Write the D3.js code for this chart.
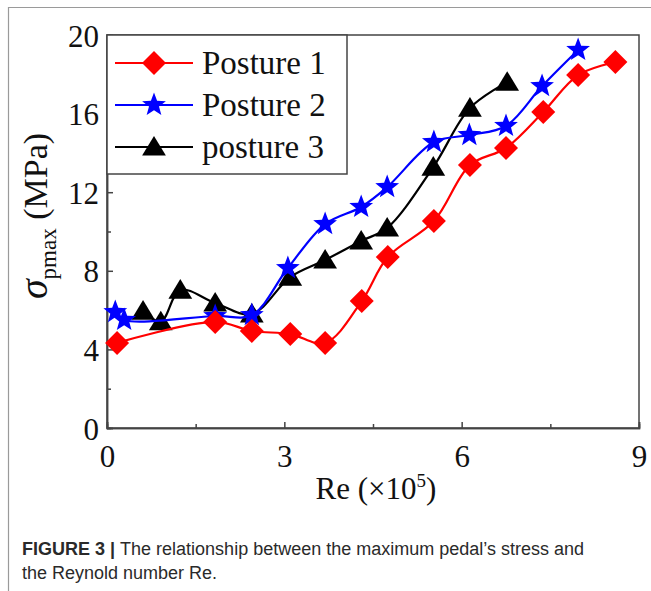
<!DOCTYPE html>
<html>
<head>
<meta charset="utf-8">
<script src="https://cdn.jsdelivr.net/npm/d3@7"></script>
<style>
  html, body { margin: 0; padding: 0; background: #fff; }
  svg { display: block; }
</style>
</head>
<body>
<svg id="chart" width="651" height="591"></svg>
<script>
// Re (x10^5) and peak pedal stress (MPa) for the three postures
const re1 = [0.17, 1.83, 2.45, 3.10, 3.69, 4.31, 4.75, 5.53, 6.14, 6.75, 7.38, 7.97, 8.60];
const sigma1 = [4.33, 5.40, 4.94, 4.78, 4.33, 6.46, 8.70, 10.53, 13.38, 14.25, 16.08, 17.96, 18.63];

const re2 = [0.14, 0.29, 1.83, 2.45, 3.06, 3.69, 4.30, 4.74, 5.53, 6.13, 6.75, 7.36, 7.97];
const sigma2 = [5.90, 5.50, 5.70, 5.75, 8.14, 10.38, 11.25, 12.26, 14.55, 14.91, 15.37, 17.40, 19.24];

const re3 = [0.61, 0.91, 1.24, 1.83, 2.45, 3.10, 3.69, 4.30, 4.74, 5.52, 6.14, 6.77];
const sigma3 = [5.95, 5.41, 7.02, 6.36, 5.80, 7.68, 8.55, 9.52, 10.18, 13.28, 16.28, 17.60];

const seriesNames = ["Posture 1", "Posture 2", "posture 3"];
const xTicks = [0, 3, 6, 9];
const xMinorTicks = [1.5, 4.5, 7.5];
const yTicks = [0, 4, 8, 12, 16, 20];
const yMinorTicks = [2, 6, 10, 14, 18];

const svg = d3.select("#chart");
const serif = "'Liberation Serif', 'Times New Roman', serif";
const sans = "'Liberation Sans', Arial, sans-serif";

const plot = { left: 107, right: 639, top: 35, bottom: 428 };
const x = d3.scaleLinear().domain([0, 9]).range([plot.left, plot.right]);
const y = d3.scaleLinear().domain([0, 20]).range([plot.bottom, plot.top]);

// outer figure frame (top and left edges)
svg.append("line").attr("x1", 8).attr("x2", 651).attr("y1", 7.5).attr("y2", 7.5)
  .attr("stroke", "#9a9a9a").attr("stroke-width", 1.2);
svg.append("line").attr("x1", 8.5).attr("x2", 8.5).attr("y1", 7).attr("y2", 591)
  .attr("stroke", "#9a9a9a").attr("stroke-width", 1.2);

// plot frame
svg.append("rect")
  .attr("x", plot.left).attr("y", plot.top)
  .attr("width", plot.right - plot.left).attr("height", plot.bottom - plot.top)
  .attr("fill", "none").attr("stroke", "#444").attr("stroke-width", 1.5);

// axes with inward ticks
const axisStyle = g => {
  g.select(".domain").attr("stroke", "#444").attr("stroke-width", 1.5);
  g.selectAll(".tick line").attr("stroke", "#444").attr("stroke-width", 1.5);
  g.selectAll(".tick text").attr("font-family", serif).attr("font-size", 31).attr("fill", "#111");
};

svg.append("g").attr("transform", `translate(0,${plot.bottom})`)
  .call(d3.axisBottom(x).tickValues(xTicks).tickSize(-6).tickPadding(16).tickFormat(d3.format("d")))
  .call(axisStyle)
  .call(g => g.selectAll(".tick text").attr("dy", "0.75em"));
svg.append("g").attr("transform", `translate(0,${plot.bottom})`)
  .call(d3.axisBottom(x).tickValues(xMinorTicks).tickSize(-4).tickFormat(""))
  .call(axisStyle);

svg.append("g").attr("transform", `translate(${plot.left},0)`)
  .call(d3.axisLeft(y).tickValues(yTicks).tickSize(-6).tickPadding(8).tickFormat(d3.format("d")))
  .call(axisStyle)
  .call(g => g.selectAll(".tick text").attr("dy", "0.36em"));
svg.append("g").attr("transform", `translate(${plot.left},0)`)
  .call(d3.axisLeft(y).tickValues(yMinorTicks).tickSize(-4).tickFormat(""))
  .call(axisStyle);

// axis titles
const xt = svg.append("text").attr("x", 376).attr("y", 499)
  .attr("text-anchor", "middle").attr("font-family", serif).attr("font-size", 31).attr("fill", "#111");
xt.append("tspan").text("Re (\u00d710");
xt.append("tspan").attr("font-size", 19).attr("dy", -12).text("5");
xt.append("tspan").attr("dy", 12).text(")");

const yt = svg.append("text")
  .attr("transform", "translate(47,216) rotate(-90)")
  .attr("text-anchor", "middle").attr("font-family", serif).attr("font-size", 34).attr("fill", "#111");
yt.append("tspan").attr("font-style", "italic").attr("font-size", 40).text("\u03c3");
yt.append("tspan").attr("font-size", 23).attr("dy", 9).text("pmax");
yt.append("tspan").attr("dy", -9).text(" (MPa)");

// marker shapes
const markerPath = {
  diamond: r => `M0,${-r}L${r},0L0,${r}L${-r},0Z`,
  star: r => {
    const pts = [];
    for (let i = 0; i < 10; i++) {
      const rad = i % 2 === 0 ? r : r * 0.42;
      const a = -Math.PI / 2 + i * Math.PI / 5;
      pts.push([rad * Math.cos(a), rad * Math.sin(a)]);
    }
    return "M" + pts.map(p => p.join(",")).join("L") + "Z";
  },
  triangle: r => `M0,${-r}L${r * 1.08},${r * 0.78}L${-r * 1.08},${r * 0.78}Z`
};

const series = [
  { name: seriesNames[0], xs: re1, ys: sigma1, color: "#ff0000", shape: "diamond", r: 12 },
  { name: seriesNames[1], xs: re2, ys: sigma2, color: "#0000ff", shape: "star", r: 12.5 },
  { name: seriesNames[2], xs: re3, ys: sigma3, color: "#000000", shape: "triangle", r: 11 }
];

const line = d3.line()
  .x(d => x(d[0])).y(d => y(d[1]))
  .curve(d3.curveCatmullRom.alpha(0.5));

// draw in order: posture 3 under posture 2 under posture 1
const drawOrder = [2, 1, 0];
drawOrder.forEach(i => {
  const s = series[i];
  const pts = s.xs.map((v, k) => [v, s.ys[k]]);
  const g = svg.append("g");
  g.append("path").datum(pts).attr("d", line)
    .attr("fill", "none").attr("stroke", s.color).attr("stroke-width", 2.2);
  g.selectAll("path.m").data(pts).join("path").attr("class", "m")
    .attr("transform", d => `translate(${x(d[0])},${y(d[1])})`)
    .attr("d", markerPath[s.shape](s.r))
    .attr("fill", s.color);
});

// legend
const lg = svg.append("g");
lg.append("rect").attr("x", plot.left).attr("y", plot.top).attr("width", 240).attr("height", 139)
  .attr("fill", "#fff").attr("stroke", "#444").attr("stroke-width", 1.5);
series.forEach((s, i) => {
  const cy = 63 + i * 42;
  lg.append("line").attr("x1", 115).attr("x2", 193).attr("y1", cy).attr("y2", cy)
    .attr("stroke", s.color).attr("stroke-width", 2.2);
  lg.append("path").attr("transform", `translate(154,${cy})`)
    .attr("d", markerPath[s.shape](s.r)).attr("fill", s.color);
  lg.append("text").attr("x", 202).attr("y", cy + 11)
    .attr("font-family", serif).attr("font-size", 33).attr("fill", "#111").text(s.name);
});

// caption
const cap = svg.append("g").attr("font-family", sans).attr("font-size", 18).attr("fill", "#2a2a2a");
const l1 = cap.append("text").attr("x", 22).attr("y", 555);
l1.append("tspan").attr("font-weight", "bold").text("FIGURE 3 | ");
l1.append("tspan").text("The relationship between the maximum pedal\u2019s stress and");
cap.append("text").attr("x", 22).attr("y", 579).text("the Reynold number Re.");
</script>
</body>
</html>
